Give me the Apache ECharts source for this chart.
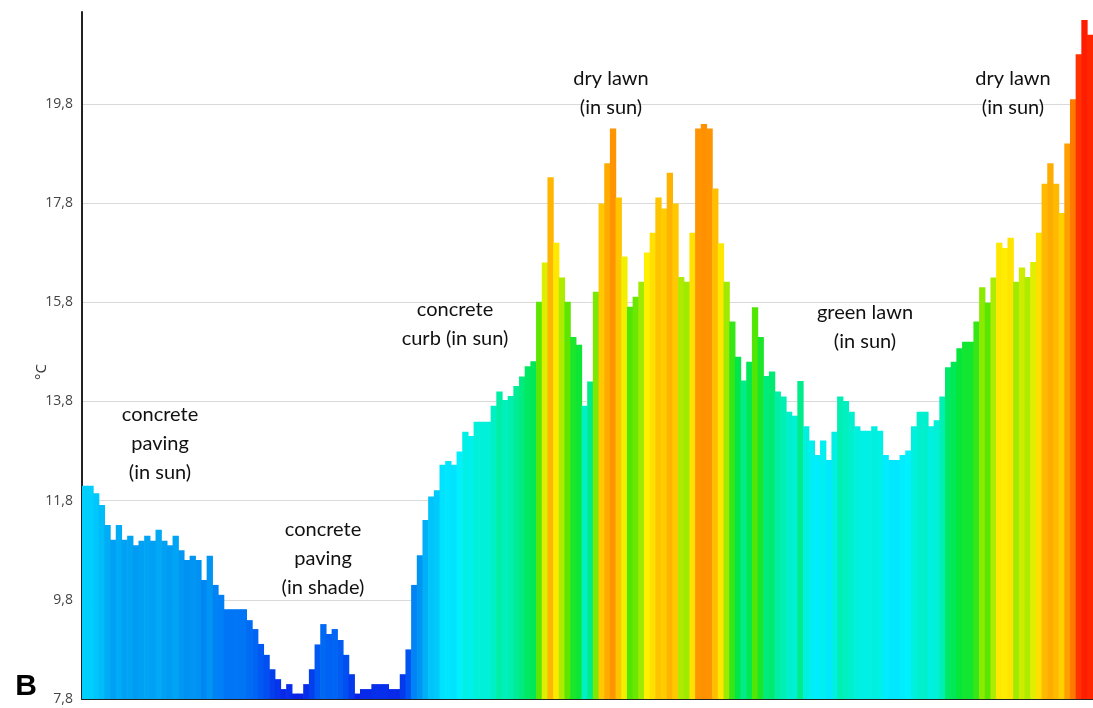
<!DOCTYPE html>
<html>
<head>
<meta charset="utf-8">
<style>
  html, body { margin: 0; padding: 0; background: #ffffff; }
  #chart { width: 1093px; height: 708px; }
</style>
<script src="https://cdn.jsdelivr.net/npm/echarts@6/dist/echarts.min.js"></script>
</head>
<body>
<div id="chart"></div>
<script>
// Surface temperatures (°C) along the transect
const pavingSun = [12.10, 12.10, 11.95, 11.71, 11.31, 11.01, 11.31, 11.01, 11.09, 10.90,
  10.99, 11.09, 10.99, 11.21, 10.99, 10.90, 11.09, 10.80, 10.60, 10.69,
  10.60, 10.20, 10.69, 10.10, 9.90, 9.61, 9.61, 9.61, 9.61];
const pavingShade = [9.39, 9.21, 8.91, 8.69, 8.40, 8.20, 8.00, 8.10, 7.91, 7.91,
  8.10, 8.40, 8.90, 9.31, 9.11, 9.21, 8.99, 8.69, 8.30, 7.91,
  8.00, 8.00, 8.10, 8.10, 8.10, 8.00, 8.00, 8.30, 8.80];
const curbSun = [10.10, 10.70, 11.41, 11.88, 12.01, 12.52, 12.60, 12.52, 12.79, 13.19,
  13.10, 13.39, 13.39, 13.39, 13.71, 14.00, 13.83, 13.91, 14.11, 14.30,
  14.51, 14.61, 15.81];
const dryLawnA = [16.60, 18.32, 17.00, 16.30, 15.81, 15.10, 14.94, 13.71, 14.20, 16.01,
  17.79, 18.60, 19.30, 17.91, 16.72, 15.71, 15.91, 16.21, 16.80, 17.20,
  17.91, 17.69, 18.41, 17.79, 16.31, 16.21, 17.20, 19.30, 19.39, 19.30,
  18.09, 16.99, 16.21, 15.41, 14.70, 14.22, 14.60, 15.70];
const greenLawn = [15.10, 14.31, 14.40, 14.00, 13.90, 13.59, 13.51, 14.21, 13.30, 13.01,
  12.72, 13.01, 12.62, 13.19, 13.90, 13.81, 13.59, 13.30, 13.21, 13.21,
  13.30, 13.21, 12.72, 12.62, 12.62, 12.72, 12.81, 13.30, 13.59, 13.59,
  13.30, 13.42, 13.90];
const dryLawnB = [14.49, 14.60, 14.87, 15.00, 15.00, 15.41, 16.10, 15.79, 16.30, 17.00,
  16.89, 17.10, 16.21, 16.50, 16.31, 16.61, 17.20, 18.19, 18.60, 18.19,
  17.60, 19.00, 19.89, 20.80, 21.49, 21.19];

const yTicks = [7.8, 9.8, 11.8, 13.8, 15.8, 17.8, 19.8];
const yTickLabels = ['7,8', '9,8', '11,8', '13,8', '15,8', '17,8', '19,8'];
const surfaceLabels = [
  'concrete\npaving\n(in sun)',
  'concrete\npaving\n(in shade)',
  'concrete\ncurb (in sun)',
  'dry lawn\n(in sun)',
  'green lawn\n(in sun)',
  'dry lawn\n(in sun)'
];
const unitLabel = '°C';
const panelLetter = 'B';

const temps = [].concat(pavingSun, pavingShade, curbSun, dryLawnA, greenLawn, dryLawnB);
const categories = temps.map((_, i) => String(i + 1));

const chart = echarts.init(document.getElementById('chart'), null, { renderer: 'canvas' });

const annoStyle = { fontFamily: 'Lato', fontSize: 20, fill: '#111', align: 'center', lineHeight: 29 };
const annoPos = [[160, 400], [323, 515], [455, 295], [611, 64], [865, 298], [1013, 64]];

chart.setOption({
  animation: false,
  backgroundColor: '#ffffff',
  grid: { left: 82, right: 0, top: 12, bottom: 9, containLabel: false },
  xAxis: {
    type: 'category',
    data: categories,
    boundaryGap: true,
    axisLine: { show: true, lineStyle: { color: '#222', width: 2 } },
    axisTick: { show: false },
    axisLabel: { show: false },
    splitLine: { show: false }
  },
  yAxis: {
    type: 'value',
    min: 7.8,
    max: 21.65,
    interval: 2,
    axisLine: { show: true, lineStyle: { color: '#222', width: 2 } },
    axisTick: { show: false },
    axisLabel: {
      showMaxLabel: false,
      color: '#444',
      fontFamily: 'Open Sans',
      fontSize: 14,
      margin: 9,
      formatter: function (v) {
        const i = yTicks.findIndex(t => Math.abs(t - v) < 1e-6);
        return i >= 0 ? yTickLabels[i] : '';
      }
    },
    splitLine: { show: true, showMaxLine: false, lineStyle: { color: '#d9d9d9', width: 1 } }
  },
  visualMap: {
    show: false,
    type: 'continuous',
    dimension: 1,
    min: 7.8,
    max: 21.8,
    inRange: {
      color: ['#0a1ee6', '#0055f2', '#007cf6', '#0098f2', '#00c0fa', '#00f0ff', '#00f0c0',
              '#00e63c', '#5ae600', '#fff000', '#ffc800', '#ffa500', '#ff8200', '#ff3200', '#ff1400']
    }
  },
  series: [{
    type: 'bar',
    data: temps,
    barWidth: 6.3,
    barGap: '-100%',
    itemStyle: { borderWidth: 0 },
    silent: true
  }],
  graphic: [
    ...surfaceLabels.map((t, i) => ({
      type: 'text', x: annoPos[i][0], y: annoPos[i][1], z: 10,
      style: Object.assign({ text: t }, annoStyle)
    })),
    {
      type: 'text', x: 42, y: 372, rotation: Math.PI / 2,
      style: { text: unitLabel, fontFamily: 'Open Sans', fontSize: 15, fill: '#333', align: 'center', verticalAlign: 'middle' }
    },
    {
      type: 'text', x: 26, y: 687,
      style: { text: panelLetter, fontFamily: 'Liberation Sans', fontWeight: 'bold', fontSize: 30, fill: '#000', align: 'center', verticalAlign: 'middle' }
    }
  ]
});
</script>
</body>
</html>
